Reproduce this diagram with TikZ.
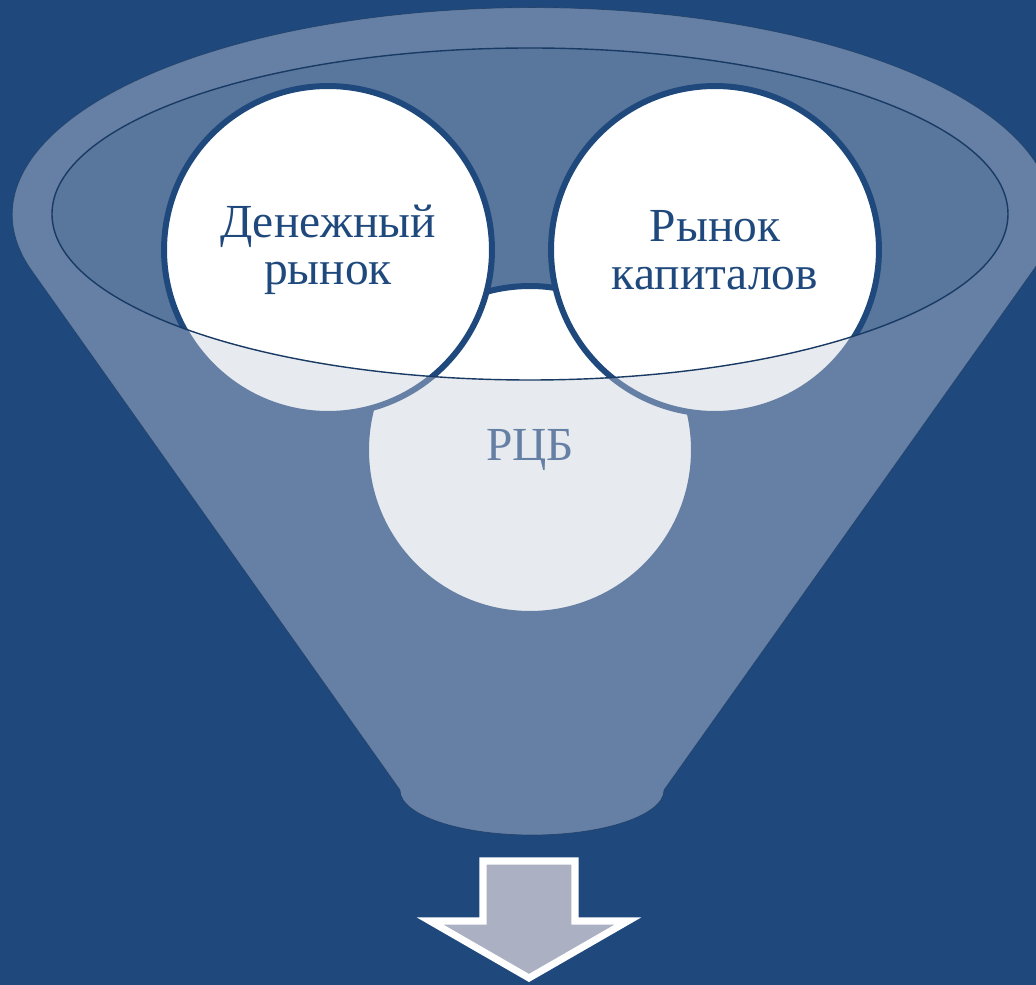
\documentclass[tikz,border=0pt]{standalone}
\usepackage{fontspec}
\setmainfont{Liberation Serif}
\usetikzlibrary{calc}

\definecolor{navy}{HTML}{1F497D}
\definecolor{haze}{RGB}{200,205,218}
\definecolor{arrowgray}{HTML}{ABB0C2}

\tikzset{
  market/.style={circle, draw=navy, line width=3.4pt, fill=white,
    minimum size=6.56cm, inner sep=0pt, align=center, text=navy,
    font=\fontsize{27}{27}\selectfont},
}

\begin{document}
\begin{tikzpicture}[x=0.02cm, y=0.02cm, line join=round]

    \fill[navy] (0,0) rectangle (1036,985);
    \useasboundingbox (0,0) rectangle (1036,985);

    % mouth of the funnel
    \fill[haze, fill opacity=0.35] (530,771) ellipse [x radius=478, y radius=166];

    \node[market] (rcb) at (530,535) {РЦБ};
    \node[market] (money) at (328,735) {Денежный\\рынок};
    \node[market] (capital) at (715,735) {Рынок\\капиталов};

    % front of the funnel
    \fill[haze, fill opacity=0.42, even odd rule]
        (32,714) arc[start angle=195.8, end angle=-15.8, x radius=520, y radius=207]
        -- (664,195) arc[start angle=0, end angle=-180, x radius=132, y radius=45] -- cycle
        (530,771) ellipse [x radius=478, y radius=166];
    \draw[navy!70!black, line width=0.4pt, opacity=0.6]
        (32,714) arc[start angle=195.8, end angle=-15.8, x radius=520, y radius=207]
        -- (664,195) arc[start angle=0, end angle=-180, x radius=132, y radius=45] -- cycle;
    \draw[navy!80!black, line width=0.8pt] (530,771) ellipse [x radius=478, y radius=166];

    % arrow
    \draw[white, line width=4pt, fill=arrowgray, line join=miter]
        (483,124) -- (575,124) -- (575,64) -- (628,64) -- (529,7) -- (430,64) -- (483,64) -- cycle;

\end{tikzpicture}
\end{document}
